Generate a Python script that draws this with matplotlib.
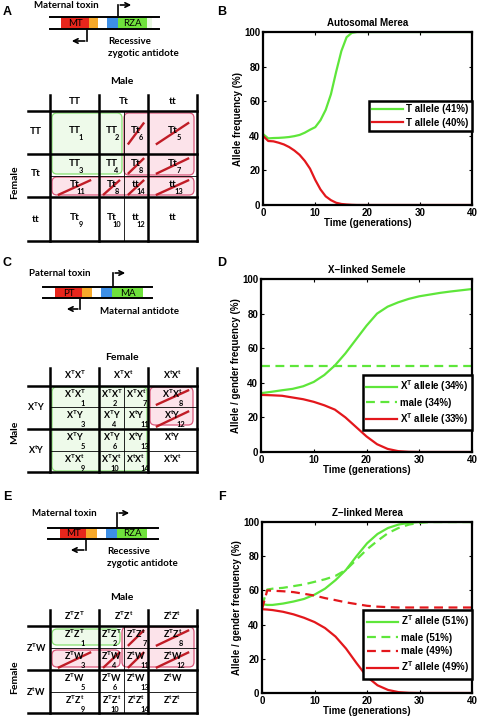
import numpy as np
import matplotlib
matplotlib.use('Agg')
import matplotlib.pyplot as plt
from matplotlib.patches import Rectangle, FancyBboxPatch

plt.rcParams['mathtext.default'] = 'regular'

# ----------------------------------------------------------------------------
# Data
# ----------------------------------------------------------------------------

# B - Autosomal Merea
t_b = [0, 1, 2, 3, 4, 5, 6, 7, 8, 9, 10, 11, 12, 13, 14, 15, 16, 17, 18, 20, 25, 30, 40]
b_T = [41, 38.5, 38.7, 38.8, 39, 39.3, 39.8, 40.5, 41.8, 43.5, 45, 49, 55, 64, 77,
       89, 97, 99.5, 100, 100, 100, 100, 100]
b_t = [40, 37, 36.8, 36, 35, 33.5, 31.5, 29, 25.5, 21, 14.5, 9, 5, 2.8, 1.3,
       0.6, 0.3, 0.1, 0, 0, 0, 0, 0]
b_labels = ['T allele (41%)', 'T allele (40%)']

# D - X-linked Semele
t_d = [0, 2, 4, 6, 8, 10, 12, 14, 16, 18, 20, 22, 24, 26, 28, 30, 32, 34, 36, 38, 40]
d_T = [34, 34.8, 35.7, 36.5, 38, 40.5, 44.5, 50, 57, 65, 73, 80, 84, 86.5, 88.5,
       90, 91, 92, 92.8, 93.5, 94.2]
d_male = [50] * len(t_d)
d_t = [33, 32.8, 32.5, 31.5, 30.5, 29, 27, 24.5, 20, 14.5, 9, 4.5, 1.8, 0.5, 0.1,
       0, 0, 0, 0, 0, 0]
d_labels = ['X$^T$ allele (34%)', 'male (34%)', 'X$^T$ allele (33%)']

# F - Z-linked Merea
t_f = [0, 1, 2, 4, 6, 8, 10, 12, 14, 16, 18, 20, 22, 24, 26, 28, 30, 32, 35, 40]
f_T = [52, 51.5, 51.5, 52.3, 53.5, 55, 57.5, 61, 66, 72, 80, 87.5, 93, 96.5, 98.5,
       99.5, 100, 100, 100, 100]
f_male_g = [51, 60.5, 61, 61.5, 62.5, 63.5, 65, 66.5, 68.5, 72, 78, 84, 89, 93.5,
            96.5, 98.5, 99.5, 100, 100, 100]
f_male_r = [49, 60, 59.8, 59.5, 59, 58, 57, 55.5, 54.3, 53, 52, 51, 50.5, 50.2,
            50, 50, 50, 50, 50, 50]
f_t = [49, 48.8, 48.5, 47.5, 46, 44, 41.5, 38, 33, 26, 17.5, 9.5, 4.5, 1.8, 0.5,
       0.1, 0, 0, 0, 0]
f_labels = ['Z$^T$ allele (51%)', 'male (51%)', 'male (49%)', 'Z$^T$ allele (49%)']

# Punnett squares: (genotype, number, killed)
a_cols = ['TT', 'Tt', 'tt']
a_rows = ['TT', 'Tt', 'tt']
a_cells = [[('TT', '1', 0), ('TT', '2', 0), ('Tt', '6', 1), ('Tt', '5', 1)],
           [('TT', '3', 0), ('TT', '4', 0), ('Tt', '8', 1), ('Tt', '7', 1)],
           [('Tt', '11', 1), ('Tt', '8', 1), ('tt', '14', 1), ('tt', '13', 1)],
           [('Tt', '9', 0), ('Tt', '10', 0), ('tt', '12', 0), ('tt', '', 0)]]

c_cols = ['X$^T$X$^T$', 'X$^T$X$^t$', 'X$^t$X$^t$']
c_rows = ['X$^T$Y', 'X$^t$Y']
c_cells = [[('X$^T$X$^T$', '1', 0), ('X$^T$X$^T$', '2', 0), ('X$^T$X$^t$', '7', 0), ('X$^T$X$^t$', '8', 1)],
           [('X$^T$Y', '3', 0), ('X$^T$Y', '4', 0), ('X$^t$Y', '11', 0), ('X$^t$Y', '12', 1)],
           [('X$^T$Y', '5', 0), ('X$^T$Y', '6', 0), ('X$^t$Y', '13', 0), ('X$^t$Y', '', 0)],
           [('X$^T$X$^t$', '9', 0), ('X$^T$X$^t$', '10', 0), ('X$^t$X$^t$', '14', 0), ('X$^t$X$^t$', '', 0)]]

e_cols = ['Z$^T$Z$^T$', 'Z$^T$Z$^t$', 'Z$^t$Z$^t$']
e_rows = ['Z$^T$W', 'Z$^t$W']
e_cells = [[('Z$^T$Z$^T$', '1', 0), ('Z$^T$Z$^T$', '2', 0), ('Z$^T$Z$^t$', '7', 1), ('Z$^T$Z$^t$', '8', 1)],
           [('Z$^T$W', '3', 1), ('Z$^T$W', '4', 1), ('Z$^t$W', '11', 1), ('Z$^t$W', '12', 1)],
           [('Z$^T$W', '5', 0), ('Z$^T$W', '6', 0), ('Z$^t$W', '13', 0), ('Z$^t$W', '', 0)],
           [('Z$^T$Z$^t$', '9', 0), ('Z$^T$Z$^t$', '10', 0), ('Z$^t$Z$^t$', '14', 0), ('Z$^t$Z$^t$', '', 0)]]

# ----------------------------------------------------------------------------
# Styles
# ----------------------------------------------------------------------------

GREEN = '#5ee63a'
RED = '#e3171c'
DFONT = 'Lato'
PFONT = 'Liberation Sans'
XS = [50, 99, 124, 148, 197]

fig = plt.figure(figsize=(4.8, 7.2), dpi=100)
ax0 = fig.add_axes([0, 0, 1, 1])
ax0.set_xlim(0, 480)
ax0.set_ylim(720, 0)
ax0.axis('off')


def txt(x, y, s, size=7, **kw):
    kw.setdefault('ha', 'center')
    kw.setdefault('va', 'center')
    kw.setdefault('family', DFONT)
    kw.setdefault('weight', 'bold')
    ax0.text(x, y, s, fontsize=size, **kw)


def construct(y1, y2, xl, xr, segs, names, up, dn):
    for (x0, x1, c) in segs:
        ax0.add_patch(Rectangle((x0, y1), x1 - x0, y2 - y1, color=c, lw=0))
    for (x0, x1, s) in names:
        txt((x0 + x1) / 2, (y1 + y2) / 2 + 0.5, s, size=7, weight='normal')
    ax0.plot([xl, xr], [y1, y1], 'k', lw=1.4)
    ax0.plot([xl, xr], [y2, y2], 'k', lw=1.4)
    ux, uy, ue = up
    ax0.plot([ux, ux], [y1, uy], 'k', lw=1.2)
    ax0.annotate('', xy=(ue, uy), xytext=(ux - 0.6, uy),
                 arrowprops=dict(arrowstyle='->', lw=1.2, mutation_scale=8))
    dx, dy, de = dn
    ax0.plot([dx, dx], [y2, dy], 'k', lw=1.2)
    ax0.annotate('', xy=(de, dy), xytext=(dx + 0.6, dy),
                 arrowprops=dict(arrowstyle='->', lw=1.2, mutation_scale=8))


def rbox(x0, y0, x1, y1, kind):
    if kind == 'g':
        fc, ec = '#eefaea', '#86e070'
    else:
        fc, ec = '#fce3ea', '#d9567a'
    ax0.add_patch(FancyBboxPatch((x0, y0), x1 - x0, y1 - y0,
                                 boxstyle='round,pad=0,rounding_size=5',
                                 fc=fc, ec=ec, lw=0.9))


def table(ys, thick_y, hdr_top, hdr_y, side_y, cols, rows, row_y, cells,
          boxes, side, vside, vside_y, numoff, numdy, labdy, lsize):
    for b in boxes:
        rbox(*b)
    # lines
    for i, x in enumerate(XS):
        if i == 2:
            ax0.plot([x, x], [ys[0], ys[-1]], 'k', lw=0.6)
        else:
            ax0.plot([x, x], [hdr_top, ys[-1]], 'k', lw=1.8)
    for y in ys:
        if y in thick_y:
            ax0.plot([28, 197], [y, y], 'k', lw=1.8)
        else:
            ax0.plot([50, 197], [y, y], 'k', lw=0.6)
    txt(122, side_y, side, size=7.5)
    txt(15, vside_y, vside, size=7.5, rotation=90)
    for j, c in enumerate(cols):
        txt((XS[[0, 1, 3][j]] + XS[[1, 3, 4][j]]) / 2, hdr_y, c, size=lsize)
    for r, y in zip(rows, row_y):
        txt(36, y, r, size=lsize)
    for i, row in enumerate(cells):
        y0, y1 = ys[i], ys[i + 1]
        cy = (y0 + y1) / 2
        h = y1 - y0
        for j, (lab, num, dead) in enumerate(row):
            x0, x1 = XS[j], XS[j + 1]
            cx = (x0 + x1) / 2
            w = x1 - x0
            txt(cx, cy + labdy, lab, size=lsize)
            if num:
                txt(cx + numoff[j], cy + numdy, num, size=5.3)
            if dead:
                ddx = w * 0.34
                ddy = min(h * 0.36, 11)
                ax0.plot([cx - ddx, cx + ddx], [cy + 1 + ddy, cy + 1 - ddy],
                         color='#c01c26', lw=1.7, solid_capstyle='butt')


# --- panel A
txt(7, 12, 'A', size=9, family=PFONT)
txt(66, 5, 'Maternal toxin', size=7)
construct(17, 29, 50, 159,
          [(61, 89, '#e8261c'), (89, 98, '#f7a92a'), (107, 118, '#3d8fe6'),
           (118, 147, '#6fe23c'), (147, 152, '#e8f8e0')],
          [(61, 89, 'MT'), (118, 147, 'RZA')],
          (118, 5, 134), (87, 41, 69))
txt(108, 42, 'Recessive', size=7, ha='left')
txt(108, 54, 'zygotic antidote', size=7, ha='left')
table([111, 154, 176, 197, 241], [111, 154, 197, 241], 95, 101, 82,
      a_cols, a_rows, [131, 174, 219], a_cells,
      [(52, 113, 122, 174, 'g'), (124, 113, 194, 175, 'p'), (52, 177, 194, 195, 'p')],
      'Male', 'Female', 182, [6.5, 5, 5, 6.5], 5.5, -2, 7.3)

# --- panel C
txt(7, 263, 'C', size=9, family=PFONT)
txt(60, 273, 'Paternal toxin', size=7)
construct(287, 298, 43, 152,
          [(55, 82, '#e8261c'), (82, 92, '#f7a92a'), (101, 112, '#3d8fe6'),
           (112, 143, '#6fe23c')],
          [(55, 82, 'PT'), (112, 143, 'MA')],
          (113, 273, 128), (80, 309, 64))
txt(100, 311, 'Maternal antidote', size=7, ha='left')
table([386, 407, 429, 451, 472], [386, 429, 472], 368, 375, 357,
      c_cols, c_rows, [407, 450], c_cells,
      [(52, 387, 147, 471, 'g'), (150, 387, 193, 425, 'p')],
      'Female', 'Male', 432, [8.5, 3, 8.5, 8.5], 6.8, -2.8, 6.5)

# --- panel E
txt(7, 497, 'E', size=9, family=PFONT)
txt(64, 514, 'Maternal toxin', size=7)
construct(528, 539, 48, 158,
          [(60, 86, '#e8261c'), (86, 97, '#f7a92a'), (106, 117, '#3d8fe6'),
           (117, 147, '#6fe23c')],
          [(60, 86, 'MT'), (117, 147, 'RZA')],
          (117, 513, 132), (86, 550, 68))
txt(107, 552, 'Recessive', size=7, ha='left')
txt(107, 564, 'zygotic antidote', size=7, ha='left')
table([626, 648, 670, 692, 713], [626, 670, 713], 610, 616, 597,
      e_cols, e_rows, [648, 692], e_cells,
      [(52, 629, 120, 645, 'g'), (122, 627, 194, 667, 'p'), (52, 650, 120, 667, 'p')],
      'Male', 'Female', 677, [8.5, 3, 8.5, 8.5], 6.8, -2.8, 6.5)

# ----------------------------------------------------------------------------
# Line plots
# ----------------------------------------------------------------------------


def px_axes(l, t, r, b):
    return fig.add_axes([l / 480, 1 - b / 720, (r - l) / 480, (b - t) / 720])


def style(ax, title, ylab, ticks_y):
    ax.set_xlim(0, 40)
    ax.set_ylim(0, 100)
    ax.set_xticks([0, 10, 20, 30, 40])
    ax.set_yticks(ticks_y)
    ax.tick_params(direction='in', top=True, right=True, length=2.5, width=0.8,
                   labelsize=7, pad=2)
    for lab in ax.get_xticklabels() + ax.get_yticklabels():
        lab.set_fontweight('bold')
        lab.set_family(PFONT)
    for sp in ax.spines.values():
        sp.set_linewidth(1.6)
    ax.set_title(title, fontsize=7, fontweight='bold', family=PFONT, pad=4)
    ax.set_xlabel('Time (generations)', fontsize=7, fontweight='bold', family=PFONT,
                  labelpad=0.5)
    ax.set_ylabel(ylab, fontsize=7, fontweight='bold', family=PFONT, labelpad=1)


def legend(ax, top):
    lg = ax.legend(loc='upper right', bbox_to_anchor=(1.0, top), borderaxespad=0,
                   fancybox=False, framealpha=1, edgecolor='black',
                   handlelength=3.2, handletextpad=0.3, labelspacing=0.35,
                   borderpad=0.35, prop=dict(family=PFONT, weight='bold', size=7))
    lg.get_frame().set_linewidth(1.8)


axB = px_axes(263, 32, 472, 205)
axB.plot(t_b, b_T, color=GREEN, lw=1.6, label=b_labels[0])
axB.plot(t_b, b_t, color=RED, lw=1.6, label=b_labels[1])
style(axB, 'Autosomal Merea', 'Allele frequency (%)', [0, 20, 40, 60, 80, 100])
legend(axB, 0.601)
fig.text(222 / 480, 1 - 12 / 720, 'B', fontsize=9, fontweight='bold', family=PFONT,
         ha='center', va='center')

axD = px_axes(261, 279, 472, 452)
axD.plot(t_d, d_T, color=GREEN, lw=1.6, label=d_labels[0])
axD.plot(t_d, d_male, color=GREEN, lw=1.6, ls=(0, (4, 2.5)), label=d_labels[1])
axD.plot(t_d, d_t, color=RED, lw=1.6, label=d_labels[2])
style(axD, 'X\u2212linked Semele', 'Allele / gender frequency (%)',
      [0, 20, 40, 60, 80, 100])
legend(axD, 0.445)
fig.text(222 / 480, 1 - 263 / 720, 'D', fontsize=9, fontweight='bold', family=PFONT,
         ha='center', va='center')

axF = px_axes(262, 522, 472, 693)
axF.plot(t_f, f_T, color=GREEN, lw=1.6, label=f_labels[0])
axF.plot(t_f, f_male_g, color=GREEN, lw=1.6, ls=(0, (4, 2.5)), label=f_labels[1])
axF.plot(t_f, f_male_r, color=RED, lw=1.6, ls=(0, (4, 2.5)), label=f_labels[2])
axF.plot(t_f, f_t, color=RED, lw=1.6, label=f_labels[3])
style(axF, 'Z\u2212linked Merea', 'Allele / gender frequency (%)',
      [0, 20, 40, 60, 80, 100])
legend(axF, 0.485)
fig.text(222 / 480, 1 - 497 / 720, 'F', fontsize=9, fontweight='bold', family=PFONT,
         ha='center', va='center')

fig.savefig('out.png', dpi=100)
